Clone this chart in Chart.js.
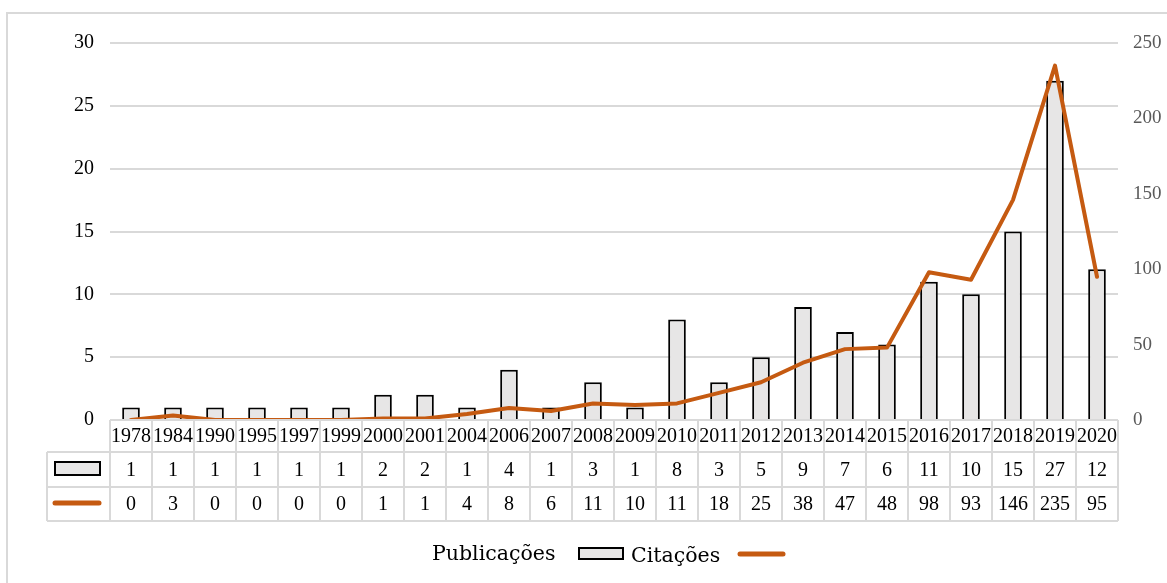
<!DOCTYPE html>
<html>
<head>
<meta charset="utf-8">
<script src="https://cdn.jsdelivr.net/npm/chart.js@4/dist/chart.umd.min.js"></script>
<style>
    html, body { margin: 0; padding: 0; background: #fff; }
    canvas { display: block; }
</style>
</head>
<body>
<canvas id="chart" width="1167" height="583"></canvas>
<script>
// Years shown on the category axis.
const years = ['1978', '1984', '1990', '1995', '1997', '1999', '2000', '2001', '2004', '2006', '2007', '2008',
    '2009', '2010', '2011', '2012', '2013', '2014', '2015', '2016', '2017', '2018', '2019', '2020'];

const publicacoes = [1, 1, 1, 1, 1, 1, 2, 2, 1, 4, 1, 3, 1, 8, 3, 5, 9, 7, 6, 11, 10, 15, 27, 12];
const citacoes = [0, 3, 0, 0, 0, 0, 1, 1, 4, 8, 6, 11, 10, 11, 18, 25, 38, 47, 48, 98, 93, 146, 235, 95];

const seriesNames = ['Publicações', 'Citações'];

const barFill = '#e7e6e6';
const lineColor = '#c55a11';
const gridColor = '#d9d9d9';
const serif = '"Liberation Serif", "Times New Roman", serif';


// Draws the outer frame, the data table under the plot and the legend.
const tablePlugin = {
    id: 'tablePlugin',
    afterDraw(chart) {
        const ctx = chart.ctx;
        const x = chart.scales.x;
        const area = chart.chartArea;
        const half = (area.right - area.left) / years.length / 2;

        const rowTop = area.bottom;
        const rows = [rowTop, rowTop + 32, rowTop + 67, rowTop + 101];
        const legendLeft = 47;

        ctx.save();

        // Outer frame
        ctx.strokeStyle = gridColor;
        ctx.lineWidth = 2;
        ctx.strokeRect(7, 13, 1200, 620);

        // Table lines
        ctx.beginPath();
        ctx.moveTo(area.left, rows[0]);
        ctx.lineTo(area.right, rows[0]);
        for (let r = 1; r < rows.length; ++r) {
            ctx.moveTo(legendLeft, rows[r]);
            ctx.lineTo(area.right, rows[r]);
        }
        ctx.moveTo(legendLeft, rows[1]);
        ctx.lineTo(legendLeft, rows[3]);
        for (let i = 0; i <= years.length; ++i) {
            const px = Math.round(area.left + i * half * 2);
            ctx.moveTo(px, rows[0]);
            ctx.lineTo(px, rows[3]);
        }
        ctx.stroke();

        // Table text
        ctx.fillStyle = '#000';
        ctx.font = '20px ' + serif;
        ctx.textAlign = 'center';
        ctx.textBaseline = 'middle';
        for (let i = 0; i < years.length; ++i) {
            const cx = x.getPixelForValue(i);
            ctx.fillText(years[i], cx, (rows[0] + rows[1]) / 2 + 1);
            ctx.fillText(String(publicacoes[i]), cx, (rows[1] + rows[2]) / 2 + 1);
            ctx.fillText(String(citacoes[i]), cx, (rows[2] + rows[3]) / 2 + 1);
        }

        // Series keys in the table
        ctx.fillStyle = barFill;
        ctx.strokeStyle = '#000';
        ctx.lineWidth = 2;
        ctx.fillRect(55, 462, 45, 13);
        ctx.strokeRect(55, 462, 45, 13);

        ctx.strokeStyle = lineColor;
        ctx.lineWidth = 5;
        ctx.lineCap = 'round';
        ctx.beginPath();
        ctx.moveTo(55, 503);
        ctx.lineTo(99, 503);
        ctx.stroke();

        // Legend below the table (text first, then key)
        ctx.font = '20.5px "DejaVu Serif", serif';
        ctx.fillStyle = '#000';
        ctx.textAlign = 'left';
        ctx.textBaseline = 'alphabetic';
        ctx.fillText(seriesNames[0], 432, 560);
        ctx.fillText(seriesNames[1], 631, 562);

        ctx.fillStyle = barFill;
        ctx.strokeStyle = '#000';
        ctx.lineWidth = 2;
        ctx.fillRect(579, 548, 44, 11);
        ctx.strokeRect(579, 548, 44, 11);

        ctx.strokeStyle = lineColor;
        ctx.lineWidth = 5;
        ctx.lineCap = 'round';
        ctx.beginPath();
        ctx.moveTo(740, 554);
        ctx.lineTo(783, 554);
        ctx.stroke();

        ctx.restore();
    }
};


const config = {
    type: 'bar',
    data: {
        labels: years,
        datasets: [
            {
                type: 'line',
                label: seriesNames[1],
                data: citacoes,
                yAxisID: 'y1',
                borderColor: lineColor,
                borderWidth: 4,
                borderCapStyle: 'round',
                borderJoinStyle: 'round',
                pointRadius: 0,
                tension: 0,
                order: 0
            },
            {
                label: seriesNames[0],
                data: publicacoes,
                yAxisID: 'y',
                backgroundColor: barFill,
                borderColor: '#000',
                borderWidth: 2,
                categoryPercentage: 1,
                barPercentage: 0.42,
                order: 1
            }
        ]
    },
    options: {
        responsive: false,
        animation: false,
        layout: {
            padding: { top: 43, bottom: 163, left: 0, right: 0 }
        },
        plugins: {
            legend: { display: false },
            tooltip: { enabled: false }
        },
        scales: {
            x: {
                display: false
            },
            y: {
                position: 'left',
                min: 0,
                max: 30,
                ticks: {
                    stepSize: 5,
                    padding: 16,
                    color: '#000',
                    font: { family: serif, size: 20 }
                },
                grid: { color: gridColor, lineWidth: 2, drawTicks: false },
                border: { display: false },
                afterFit(scale) { scale.width = 110; }
            },
            y1: {
                position: 'right',
                min: 0,
                max: 250,
                ticks: {
                    stepSize: 50,
                    padding: 7,
                    color: '#595959',
                    font: { family: serif, size: 19 }
                },
                grid: { display: false },
                border: { display: false },
                afterFit(scale) { scale.width = 49; }
            }
        }
    },
    plugins: [tablePlugin]
};

new Chart(document.getElementById('chart'), config);
</script>
</body>
</html>
